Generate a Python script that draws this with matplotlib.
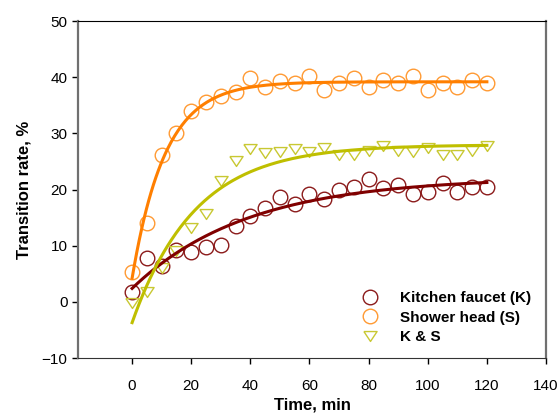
import numpy as np
import matplotlib
matplotlib.use("Agg")
import matplotlib.pyplot as plt

plt.rcParams['font.family'] = ['Liberation Sans', 'DejaVu Sans']

# sampling times, min
time_min = [0, 5, 10, 15, 20, 25, 30, 35, 40, 45, 50, 55, 60,
            65, 70, 75, 80, 85, 90, 95, 100, 105, 110, 115, 120]

# transition rate, %
kitchen = [1.8, 7.8, 6.3, 9.2, 8.9, 9.7, 10.1, 13.5, 15.3, 16.7, 18.7, 17.4, 19.2,
           18.3, 19.9, 20.5, 21.8, 20.2, 20.8, 19.2, 19.5, 21.1, 19.6, 20.4, 20.5]
shower = [5.3, 14.1, 26.2, 30.1, 33.9, 35.5, 36.6, 37.3, 39.9, 38.3, 39.3, 39.0, 40.2,
          37.7, 38.9, 39.9, 38.3, 39.5, 39.0, 40.2, 37.7, 38.9, 38.3, 39.5, 39.0]
k_and_s = [-0.2, 1.7, 6.1, 9.1, 13.2, 15.7, 21.5, 25.1, 27.3, 26.5, 26.7, 27.2, 26.6,
           27.4, 26.1, 26.1, 26.9, 27.8, 26.9, 26.6, 27.4, 26.1, 26.2, 26.9, 27.8]

labels = ['Kitchen faucet (K)', 'Shower head (S)', 'K & S']
marker_colors = ['#8b1a1a', '#ff9a33', '#c8c832']
line_colors = ['#800000', '#ff7f00', '#bfbf00']


def rise_fit(t, y):
    # y = y0 + a*(1 - exp(-b*t)), least squares over a grid of b
    t = np.asarray(t, float)
    y = np.asarray(y, float)
    best = None
    for b in np.linspace(0.005, 0.6, 3000):
        X = np.column_stack([np.ones_like(t), 1 - np.exp(-b * t)])
        coef, *_ = np.linalg.lstsq(X, y, rcond=None)
        sse = np.sum((X @ coef - y) ** 2)
        if best is None or sse < best[0]:
            best = (sse, coef[0], coef[1], b)
    return best[1:]


tri = [(-1, 0.75), (1, 0.75), (0, -0.75), (-1, 0.75)]

fig = plt.figure(figsize=(5.58, 4.16), dpi=100)
ax = fig.add_axes([0.1398, 0.1394, 0.8387, 0.8101])

tt = np.linspace(0, 120, 300)
for ys, lab, mc, lc, mk in zip([kitchen, shower, k_and_s], labels,
                               marker_colors, line_colors, ['o', 'o', tri]):
    y0, a, b = rise_fit(time_min, ys)
    ax.plot(tt, y0 + a * (1 - np.exp(-b * tt)), color=lc, lw=2.2, zorder=3)
    ax.plot(time_min, ys, linestyle='none', marker=mk,
            markersize=10.5 if mk == 'o' else 9.5,
            markerfacecolor='none', markeredgecolor=mc, markeredgewidth=1.0,
            label=lab, zorder=2)

ax.set_xlim(-18.3, 140)
ax.set_ylim(-10, 50)
ax.set_xticks(range(0, 141, 20))
ax.set_yticks(range(-10, 51, 10))
ax.tick_params(direction='out', length=4, width=1, labelsize=11, top=False, right=False)
ax.tick_params(axis='x', pad=11)
for side in ['left', 'right']:
    ax.spines[side].set_color('#707070')
ax.spines['left'].set_linewidth(1.6)
ax.spines['right'].set_linewidth(1.6)
ax.spines['top'].set_color('black')
ax.spines['bottom'].set_color('#333333')

ax.set_xlabel('Time, min', fontsize=12, fontweight='bold', labelpad=3)
ax.set_ylabel('Transition rate, %', fontsize=12, fontweight='bold', labelpad=7)

ax.legend(loc='lower right', bbox_to_anchor=(0.99, 0.01), frameon=False,
          prop={'weight': 'bold', 'size': 11}, handletextpad=0.9,
          labelspacing=0.35, borderaxespad=0.3)

fig.savefig('out.png', dpi=100)
